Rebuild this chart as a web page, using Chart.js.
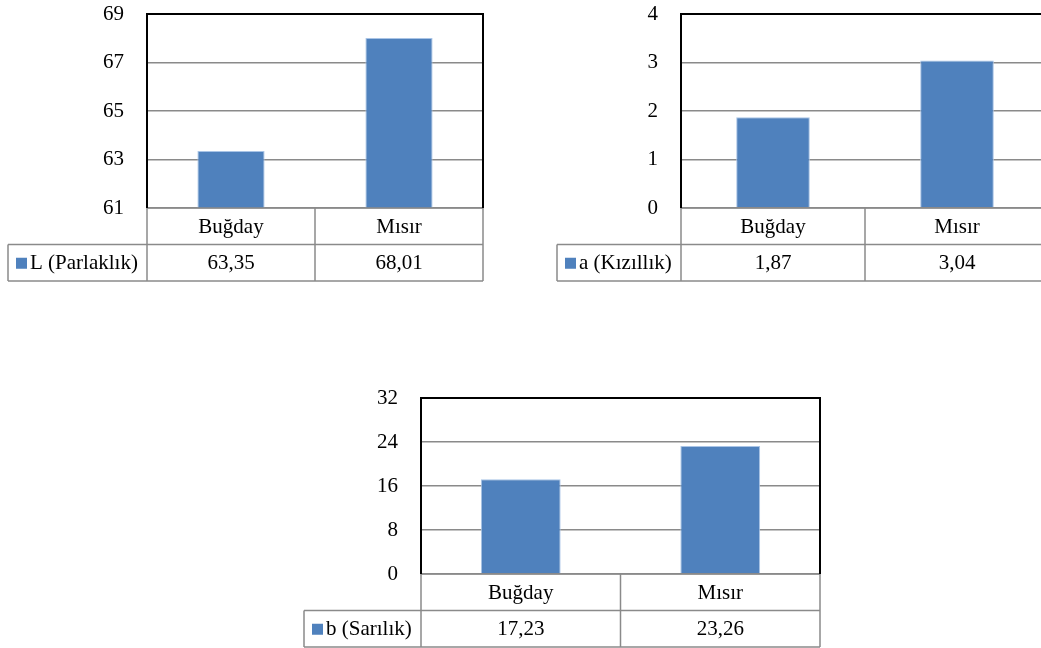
<!DOCTYPE html>
<html>
<head>
<meta charset="utf-8">
<script src="https://cdn.jsdelivr.net/npm/chart.js@4.4.1/dist/chart.umd.min.js"></script>
<style>
    html, body { margin: 0; padding: 0; background: #fff; overflow: hidden; width: 1041px; height: 648px; }
    canvas { position: absolute; }
</style>
</head>
<body>
<canvas id="chartL" width="500" height="300" style="left:0px;top:0px"></canvas>
<canvas id="chartA" width="520" height="300" style="left:540px;top:0px"></canvas>
<canvas id="chartB" width="550" height="280" style="left:290px;top:380px"></canvas>
<script>
// Data
const categories = ['Buğday', 'Mısır'];
const seriesNames = ['L (Parlaklık)', 'a (Kızıllık)', 'b (Sarılık)'];
const lValues = [63.35, 68.01];
const aValues = [1.87, 3.04];
const bValues = [17.23, 23.26];
const lTicks = [61, 63, 65, 67, 69];
const aTicks = [0, 1, 2, 3, 4];
const bTicks = [0, 8, 16, 24, 32];

const FONT = '"Liberation Serif", "Times New Roman", serif';
const BAR_BLUE = '#4F81BD';

// Draws plot frame plus the data table under the chart
const dataTablePlugin = {
    id: 'dataTable',
    afterDraw(chart, args, opts) {
        const ctx = chart.ctx;
        const area = chart.chartArea;
        const xScale = chart.scales.x;
        const rowH = 36.5;
        const n = chart.data.labels.length;
        const colW = (area.right - area.left) / n;
        const legendLeft = opts.legendLeft;

        function line(x1, y1, x2, y2) {
            ctx.beginPath();
            ctx.moveTo(x1, y1);
            ctx.lineTo(x2, y2);
            ctx.stroke();
        }

        ctx.save();
        ctx.strokeStyle = '#8a8a8a';
        ctx.lineWidth = 1.5;
        line(area.left, area.bottom, area.right, area.bottom);
        line(legendLeft, area.bottom + rowH, area.right, area.bottom + rowH);
        line(legendLeft, area.bottom + 2 * rowH, area.right, area.bottom + 2 * rowH);
        for (let i = 0; i <= n; i++) {
            const xx = area.left + i * colW;
            line(xx, area.bottom, xx, area.bottom + 2 * rowH);
        }
        line(legendLeft, area.bottom + rowH, legendLeft, area.bottom + 2 * rowH);

        // black frame round the plot
        ctx.strokeStyle = '#000';
        ctx.lineWidth = 2;
        ctx.beginPath();
        ctx.moveTo(area.left, area.bottom);
        ctx.lineTo(area.left, area.top);
        ctx.lineTo(area.right, area.top);
        ctx.lineTo(area.right, area.bottom);
        ctx.stroke();

        // texts
        ctx.fillStyle = '#000';
        ctx.font = '21px ' + FONT;
        ctx.textAlign = 'center';
        ctx.textBaseline = 'middle';
        const values = chart.data.datasets[0].data;
        chart.data.labels.forEach((label, i) => {
            const cx = xScale.getPixelForValue(i);
            ctx.fillText(label, cx, area.bottom + rowH / 2 + 1);
            ctx.fillText(values[i].toFixed(2).replace('.', ','), cx, area.bottom + 1.5 * rowH + 1);
        });

        // legend key
        const ky = area.bottom + 1.5 * rowH;
        ctx.fillStyle = BAR_BLUE;
        ctx.fillRect(legendLeft + 8, ky - 5, 11, 11);
        ctx.fillStyle = '#000';
        ctx.textAlign = 'left';
        ctx.fillText(chart.data.datasets[0].label, legendLeft + 22, ky + 1);
        ctx.restore();
    }
};

function makeChart(id, name, values, ticks, box) {
    const el = document.getElementById(id);
    return new Chart(el, {
        type: 'bar',
        data: {
            labels: categories,
            datasets: [{
                label: name,
                data: values,
                backgroundColor: BAR_BLUE,
                borderColor: '#a9c4e6',
                borderWidth: 1,
                barPercentage: 0.4,
                categoryPercentage: 1.0
            }]
        },
        options: {
            responsive: false,
            animation: false,
            layout: {
                padding: { left: 0, right: box.right, top: box.top, bottom: box.bottom }
            },
            plugins: {
                legend: { display: false },
                tooltip: { enabled: false },
                dataTable: { legendLeft: box.legendLeft }
            },
            scales: {
                x: { display: false },
                y: {
                    min: ticks[0],
                    max: ticks[ticks.length - 1],
                    afterBuildTicks: (scale) => {
                        scale.ticks = ticks.map(v => ({ value: v }));
                    },
                    afterFit: (scale) => {
                        scale.width = box.axisWidth;
                    },
                    border: { display: false },
                    grid: {
                        color: '#8a8a8a',
                        lineWidth: 1.5,
                        drawTicks: true,
                        tickLength: 23,
                        tickColor: 'rgba(0,0,0,0)'
                    },
                    ticks: {
                        color: '#000',
                        padding: 0,
                        font: { family: FONT, size: 21 }
                    }
                }
            }
        },
        plugins: [dataTablePlugin]
    });
}

document.addEventListener('DOMContentLoaded', function() {
    makeChart('chartL', seriesNames[0], lValues, lTicks,
        { axisWidth: 147, right: 17, top: 14, bottom: 92, legendLeft: 8 });
    makeChart('chartA', seriesNames[1], aValues, aTicks,
        { axisWidth: 141, right: 11, top: 14, bottom: 92, legendLeft: 17 });
    makeChart('chartB', seriesNames[2], bValues, bTicks,
        { axisWidth: 131, right: 20, top: 18, bottom: 86, legendLeft: 14 });
});
</script>
</body>
</html>
